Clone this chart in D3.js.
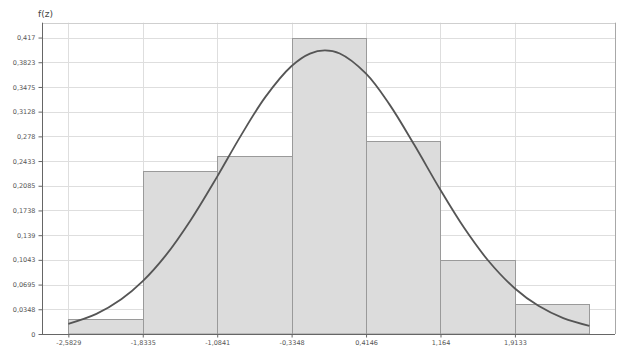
<!DOCTYPE html>
<html>
<head>
<meta charset="utf-8">
<script src="https://cdn.jsdelivr.net/npm/d3@7"></script>
<style>
  html, body { margin: 0; padding: 0; background: #fff; }
  svg { display: block; }
</style>
</head>
<body>
<svg id="chart" width="617" height="349"></svg>
<script>
// Histogram bin edges (z) and density heights
const binEdges = [-2.5829, -1.8335, -1.0841, -0.3348, 0.4146, 1.164, 1.9133, 2.6627];
const binDensity = [0.0209, 0.2294, 0.2502, 0.417, 0.2711, 0.1043, 0.0417];

// Fitted density curve, sampled points [z, f(z)]
const curveZ = [-2.5829, -2.3, -2.05, -1.8335, -1.6, -1.35, -1.0841, -0.85, -0.6, -0.3348, -0.15, 0,
                0.15, 0.4146, 0.65, 0.9, 1.164, 1.4, 1.65, 1.9133, 2.15, 2.4, 2.6627];
const curveF = [0.0143, 0.0283, 0.0488, 0.0743, 0.1109, 0.1604, 0.2214, 0.2780, 0.3332, 0.3770, 0.3945, 0.3989,
                0.3945, 0.3662, 0.3230, 0.2661, 0.2025, 0.1497, 0.1023, 0.0640, 0.0396, 0.0224, 0.0115];

// Axis tick values and labels
const xTicks = [-2.5829, -1.8335, -1.0841, -0.3348, 0.4146, 1.164, 1.9133];
const xTickLabels = ["-2,5829", "-1,8335", "-1,0841", "-0,3348", "0,4146", "1,164", "1,9133"];
const yTicks = [0, 0.0348, 0.0695, 0.1043, 0.139, 0.1738, 0.2085, 0.2433, 0.278, 0.3128, 0.3475, 0.3823, 0.417];
const yTickLabels = ["0", "0,0348", "0,0695", "0,1043", "0,139", "0,1738", "0,2085", "0,2433", "0,278", "0,3128", "0,3475", "0,3823", "0,417"];

const svg = d3.select("#chart");
const plotL = 42, plotR = 615, plotT = 22.7, plotB = 334;

const x = d3.scaleLinear().domain([-2.848, 2.921]).range([plotL, plotR]);
const y = d3.scaleLinear().domain([0, 0.4379]).range([plotB, plotT]);

const font = "Verdana, 'DejaVu Sans', sans-serif";

// gridlines
const grid = svg.append("g");
grid.selectAll("line.h").data(yTicks.slice(1)).join("line")
  .attr("x1", plotL).attr("x2", plotR)
  .attr("y1", d => Math.round(y(d)) + 0.5).attr("y2", d => Math.round(y(d)) + 0.5)
  .attr("stroke", "#dedede").attr("stroke-width", 1);
grid.selectAll("line.v").data(xTicks).join("line")
  .attr("y1", plotT).attr("y2", plotB)
  .attr("x1", d => Math.round(x(d)) + 0.5).attr("x2", d => Math.round(x(d)) + 0.5)
  .attr("stroke", "#dedede").attr("stroke-width", 1);

// plot frame (top and right)
svg.append("line").attr("x1", plotL).attr("x2", plotR).attr("y1", Math.round(plotT) + 0.5).attr("y2", Math.round(plotT) + 0.5)
  .attr("stroke", "#cfcfcf");
svg.append("line").attr("x1", plotR + 0.5).attr("x2", plotR + 0.5).attr("y1", plotT).attr("y2", plotB)
  .attr("stroke", "#a8a8a8");

// histogram bars
const bins = binDensity.map((v, i) => ({ x0: binEdges[i], x1: binEdges[i + 1], v }));
svg.append("g").selectAll("rect").data(bins).join("rect")
  .attr("x", d => Math.round(x(d.x0)) + 0.5)
  .attr("width", d => Math.round(x(d.x1)) - Math.round(x(d.x0)))
  .attr("y", d => Math.round(y(d.v)) + 0.5)
  .attr("height", d => plotB - Math.round(y(d.v)) - 0.5)
  .attr("fill", "#dcdcdc")
  .attr("stroke", "#9a9a9a")
  .attr("stroke-width", 1);

// density curve
const line = d3.line()
  .x(d => x(d[0]))
  .y(d => y(d[1]))
  .curve(d3.curveCatmullRom.alpha(0.5));
svg.append("path")
  .datum(curveZ.map((z, i) => [z, curveF[i]]))
  .attr("d", line)
  .attr("fill", "none")
  .attr("stroke", "#555")
  .attr("stroke-width", 1.8);

// y axis
const yAxis = d3.axisLeft(y).tickValues(yTicks).tickSize(4).tickPadding(3)
  .tickFormat((d, i) => yTickLabels[i]);
const gy = svg.append("g").attr("transform", `translate(${plotL + 0.5},0)`).call(yAxis);
gy.select(".domain").attr("stroke", "#666").attr("d", `M0,${plotT}V${plotB}`);
gy.selectAll(".tick line").attr("stroke", "#666");
gy.selectAll(".tick text").attr("fill", "#555").attr("font-size", 6.5).attr("font-family", font);

// x axis
const xAxis = d3.axisBottom(x).tickValues(xTicks).tickSize(3).tickPadding(3)
  .tickFormat((d, i) => xTickLabels[i]);
const gx = svg.append("g").attr("transform", `translate(0,${plotB + 0.5})`).call(xAxis);
gx.select(".domain").attr("stroke", "#666").attr("d", `M${plotL},0H${plotR}`);
gx.selectAll(".tick line").attr("stroke", "#666");
gx.selectAll(".tick text").attr("fill", "#555").attr("font-size", 6.5).attr("font-family", font);

// axis title
svg.append("text").attr("x", 38).attr("y", 17)
  .attr("font-family", font).attr("font-size", 9).attr("fill", "#444")
  .text("f(z)");
</script>
</body>
</html>
